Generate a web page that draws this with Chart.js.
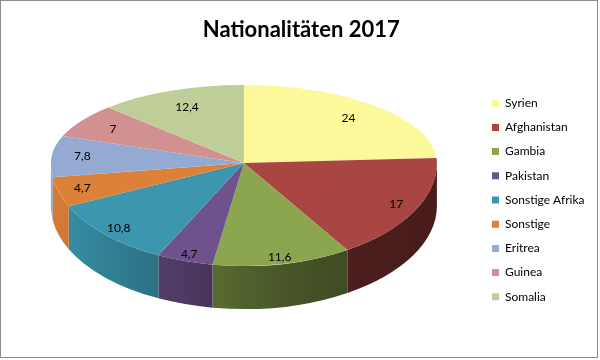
<!DOCTYPE html>
<html>
<head>
<meta charset="utf-8">
<script src="https://cdn.jsdelivr.net/npm/chart.js@4.4.1/dist/chart.umd.min.js"></script>
<style>
html,body{margin:0;padding:0;background:#fff;}
#wrap{width:600px;height:360px;}
</style>
</head>
<body>
<div id="wrap"><canvas id="c" width="600" height="360"></canvas></div>
<script>
// ---- data ----
const categories = ['Syrien', 'Afghanistan', 'Gambia', 'Pakistan', 'Sonstige Afrika', 'Sonstige', 'Eritrea', 'Guinea', 'Somalia'];
const values = [24, 17, 11.6, 4.7, 10.8, 4.7, 7.8, 7, 12.4];
const valueLabels = ['24', '17', '11,6', '4,7', '10,8', '4,7', '7,8', '7', '12,4'];
const colors = ['#FCF99A', '#A94543', '#8BA64E', '#6F528D', '#3B96AE', '#DD8139', '#95AAD3', '#D19190', '#BFCD99'];
const titleText = 'Nationalitäten 2017';

// ---- style constants ----
const FONT = 'Lato';
const pieRx = 193, pieRyBack = 78, pieRyFront = 103, pieDepth = 43;
const sideShade = [[0, 0.97], [0.25, 0.77], [0.42, 0.64], [0.6, 0.52], [0.8, 0.44], [1, 0.42]];

function shade(hex, f) {
  const n = parseInt(hex.slice(1), 16);
  const r = Math.round(((n >> 16) & 255) * f), g = Math.round(((n >> 8) & 255) * f), b = Math.round((n & 255) * f);
  return 'rgb(' + r + ',' + g + ',' + b + ')';
}

function geom(chart) {
  const a0 = chart.getDatasetMeta(0).data[0];
  const R = a0.outerRadius;
  return { cx: a0.x, cy: a0.y, R: R, ex: a0.x, ey: Math.round(chart.chartArea.top + pieRyBack) };
}

const pie3d = {
  id: 'pie3d',
  beforeDraw(chart) {
    const ctx = chart.ctx;
    ctx.save();
    ctx.fillStyle = '#ffffff';
    ctx.fillRect(0, 0, chart.width, chart.height);
    ctx.strokeStyle = '#8c8c8c';
    ctx.lineWidth = 1;
    ctx.strokeRect(0.5, 0.5, chart.width - 3, chart.height - 3);
    ctx.restore();
  },
  beforeDatasetsDraw(chart) {
    const ctx = chart.ctx;
    const arcs = chart.getDatasetMeta(0).data;
    const g = geom(chart);
    // side walls (front half only)
    arcs.forEach((arc, i) => {
      const a1 = Math.max(arc.startAngle, 0), a2 = Math.min(arc.endAngle, Math.PI);
      if (a2 <= a1) return;
      const grad = ctx.createLinearGradient(g.ex - pieRx, 0, g.ex + pieRx, 0);
      sideShade.forEach(s => grad.addColorStop(s[0], shade(colors[i], s[1])));
      ctx.save();
      ctx.beginPath();
      ctx.ellipse(g.ex, g.ey, pieRx, pieRyFront, 0, a1, a2, false);
      ctx.ellipse(g.ex, g.ey + pieDepth, pieRx, pieRyFront, 0, a2, a1, true);
      ctx.closePath();
      ctx.fillStyle = grad;
      ctx.fill();
      ctx.restore();
    });
    // back half of top face
    ctx.save();
    ctx.beginPath();
    ctx.rect(0, 0, chart.width, g.ey);
    ctx.clip();
    ctx.translate(g.ex, g.ey);
    ctx.scale(pieRx / g.R, pieRyBack / g.R);
    ctx.translate(-g.cx, -g.cy);
    arcs.forEach(a => a.draw(ctx));
    ctx.restore();
    // front half: library draws it with this transform
    ctx.save();
    ctx.beginPath();
    ctx.rect(0, g.ey, chart.width, chart.height - g.ey);
    ctx.clip();
    ctx.translate(g.ex, g.ey);
    ctx.scale(pieRx / g.R, pieRyFront / g.R);
    ctx.translate(-g.cx, -g.cy);
  },
  afterDatasetsDraw(chart) {
    const ctx = chart.ctx;
    ctx.restore();
    const arcs = chart.getDatasetMeta(0).data;
    const g = geom(chart);
    ctx.save();
    ctx.font = '12px ' + FONT;
    ctx.fillStyle = '#000000';
    ctx.textAlign = 'center';
    ctx.textBaseline = 'middle';
    arcs.forEach((arc, i) => {
      const m = (arc.startAngle + arc.endAngle) / 2;
      const s = Math.sin(m), c = Math.cos(m);
      const f = 0.85 + 0.08 * s;
      const x = g.ex + pieRx * f * c;
      const y = g.ey + (s < 0 ? pieRyBack : pieRyFront) * f * s;
      ctx.fillText(valueLabels[i], x, y);
    });
    ctx.restore();
  }
};

// legend width -> right padding so the legend boxes sit at x≈492
const mctx = document.createElement('canvas').getContext('2d');
mctx.font = '12px ' + FONT;
const maxTextW = Math.max(...categories.map(t => mctx.measureText(t).width));
const legendLeft = 480;
const padRight = 600 - legendLeft - (12 + 7 + 6 + maxTextW + 10);

new Chart(document.getElementById('c'), {
  type: 'pie',
  data: {
    labels: categories,
    datasets: [{
      data: values,
      backgroundColor: colors,
      borderWidth: 0,
      clip: false
    }]
  },
  options: {
    responsive: false,
    animation: false,
    devicePixelRatio: 1,
    events: [],
    layout: { padding: { left: 8, right: padRight, top: 0, bottom: 20 } },
    plugins: {
      title: {
        display: true,
        text: titleText,
        color: '#000000',
        font: { family: FONT, size: 22, weight: 'bold', lineHeight: 1.2 },
        padding: { top: 17, bottom: 41.6 }
      },
      legend: {
        position: 'right',
        align: 'start',
        fullSize: false,
        labels: {
          boxWidth: 7,
          boxHeight: 7,
          padding: 12.2,
          color: '#000000',
          font: { family: FONT, size: 12 }
        }
      },
      tooltip: { enabled: false }
    }
  },
  plugins: [pie3d]
});
</script>
</body>
</html>
